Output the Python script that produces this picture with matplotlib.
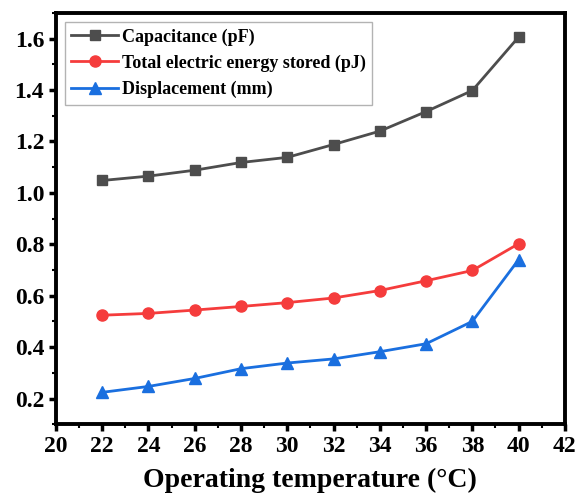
import matplotlib.pyplot as plt
from matplotlib.ticker import MultipleLocator

temp = [22, 24, 26, 28, 30, 32, 34, 36, 38, 40]
capacitance = [1.048, 1.065, 1.088, 1.118, 1.138, 1.188, 1.240, 1.316, 1.398, 1.606]
energy = [0.524, 0.531, 0.544, 0.558, 0.573, 0.591, 0.620, 0.658, 0.698, 0.802]
displacement = [0.224, 0.247, 0.278, 0.316, 0.338, 0.354, 0.382, 0.413, 0.500, 0.740]

plt.rcParams['font.family'] = ['Liberation Serif', 'DejaVu Serif']
plt.rcParams['font.weight'] = 'bold'

fig = plt.figure(figsize=(5.77, 4.95), dpi=100)
ax = fig.add_axes([0.097, 0.143, 0.882, 0.831])

ax.plot(temp, capacitance, color='#4d4d4d', marker='s', ms=7, lw=2, label='Capacitance (pF)')
ax.plot(temp, energy, color='#f53c3c', marker='o', ms=8, lw=2, label='Total electric energy stored (pJ)')
ax.plot(temp, displacement, color='#1a6fdf', marker='^', ms=8, lw=2, label='Displacement (mm)')

ax.set_xlim(20, 42)
ax.set_ylim(0.1, 1.7)
ax.xaxis.set_major_locator(MultipleLocator(2))
ax.xaxis.set_minor_locator(MultipleLocator(1))
ax.yaxis.set_minor_locator(MultipleLocator(0.1))
ax.set_yticks([0.2, 0.4, 0.6, 0.8, 1.0, 1.2, 1.4, 1.6])
ax.set_yticklabels(['0.2', '0.4', '0.6', '0.8', '1.0', '1.2', '1.4', '1.6'])

for s in ax.spines.values():
    s.set_linewidth(2.8)
ax.tick_params(which='major', direction='out', length=5, width=2.5, labelsize=17)
ax.tick_params(which='minor', direction='out', length=3, width=1.5)
for lab in ax.get_xticklabels() + ax.get_yticklabels():
    lab.set_fontweight('bold')

ax.set_xlabel('Operating temperature (°C)', fontsize=20, fontweight='bold', labelpad=8)

leg = ax.legend(loc='upper left', bbox_to_anchor=(0.0, 1.0), fontsize=13, frameon=True,
                fancybox=False, edgecolor='#a0a0a0', handlelength=2.6, borderpad=0.35,
                labelspacing=0.5, handletextpad=0.2)
leg.get_frame().set_linewidth(1)

fig.savefig('out.png', dpi=100)
